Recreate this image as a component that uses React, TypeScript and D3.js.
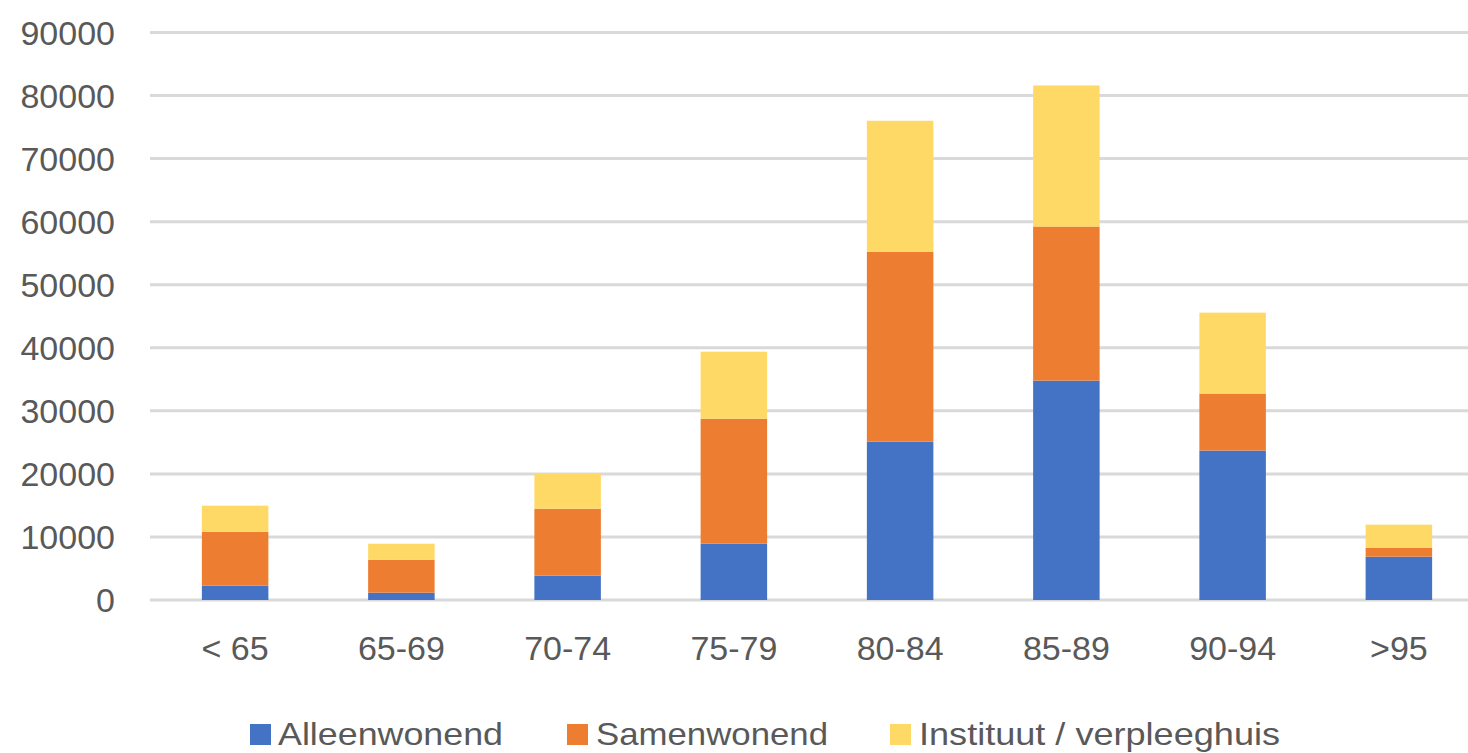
import React from "react";
import * as d3 from "d3";

const categories = ["< 65", "65-69", "70-74", "75-79", "80-84", "85-89", "90-94", ">95"];
const alleenwonend = [2270, 1160, 3860, 8930, 25110, 34790, 23700, 6870];
const samenwonend = [8560, 5230, 10620, 19830, 30130, 24440, 9040, 1430];
const instituut = [4130, 2540, 5550, 10620, 20760, 22370, 12830, 3650];
const yTicks = [0, 10000, 20000, 30000, 40000, 50000, 60000, 70000, 80000, 90000];
const seriesNames = ["Alleenwonend", "Samenwonend", "Instituut / verpleeghuis"];
const seriesColors = ["#4472C4", "#ED7D31", "#FFD966"];

const W = 1468;
const H = 753;

export default function App() {
  const x = d3.scaleBand<string>().domain(categories).range([152, 1482]).paddingInner(0.6).paddingOuter(0.3);
  const y = d3.scaleLinear().domain([0, 90000]).range([600, 32.5]);

  const rows = categories.map((c, i) => ({
    cat: c,
    Alleenwonend: alleenwonend[i],
    Samenwonend: samenwonend[i],
    "Instituut / verpleeghuis": instituut[i],
  }));
  const stack = d3.stack<any>().keys(seriesNames);
  const layers = stack(rows);

  const font = "'Liberation Sans', Arial, sans-serif";
  const textColor = "#595959";

  const legendItems = [
    { name: seriesNames[0], sx: 250, tx: 278, len: 225 },
    { name: seriesNames[1], sx: 567, tx: 596, len: 232 },
    { name: seriesNames[2], sx: 890, tx: 919, len: 361 },
  ];

  return (
    <svg width={W} height={H} style={{ position: "absolute", left: 0, top: 0, background: "#fff" }}>
      <rect x={0} y={0} width={W} height={H} fill="#fff" />
      {yTicks.map((t) => (
        <g key={t}>
          <line x1={150} x2={1482} y1={y(t)} y2={y(t)} stroke="#D9D9D9" strokeWidth={3} />
          <text x={115} y={y(t)} dy="0.36em" textAnchor="end" fontFamily={font} fontSize={34} fill={textColor}>
            {t}
          </text>
        </g>
      ))}
      {layers.map((layer, li) => (
        <g key={layer.key} fill={seriesColors[li]}>
          {layer.map((d, i) => (
            <rect
              key={i}
              x={x(categories[i])}
              width={x.bandwidth()}
              y={y(d[1])}
              height={y(d[0]) - y(d[1])}
            />
          ))}
        </g>
      ))}
      {categories.map((c) => (
        <text
          key={c}
          x={(x(c) as number) + x.bandwidth() / 2}
          y={660}
          textAnchor="middle"
          fontFamily={font}
          fontSize={34}
          fill={textColor}
        >
          {c}
        </text>
      ))}
      {legendItems.map((it, i) => (
        <g key={it.name}>
          <rect x={it.sx} y={724} width={21} height={21} fill={seriesColors[i]} />
          <text x={it.tx} y={745} fontFamily={font} fontSize={32} fill={textColor} textLength={it.len} lengthAdjust="spacingAndGlyphs">
            {it.name}
          </text>
        </g>
      ))}
    </svg>
  );
}
